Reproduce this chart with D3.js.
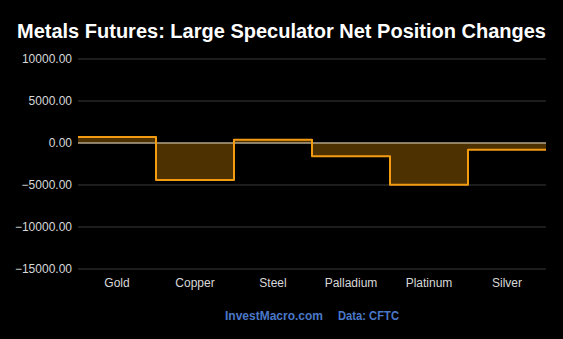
<!DOCTYPE html>
<html><head><meta charset="utf-8">
<script src="https://cdn.jsdelivr.net/npm/d3@7/dist/d3.min.js"></script>
<style>html,body{margin:0;padding:0;background:#000;}svg{display:block;font-family:"Liberation Sans",Arial,sans-serif;}</style>
</head><body>
<svg id="c" width="563" height="339"></svg>
<script>
const categories = ["Gold","Copper","Steel","Palladium","Platinum","Silver"];
const values = [700, -4400, 400, -1590, -4980, -800];
const yTicks = [10000, 5000, 0, -5000, -10000, -15000];
const titleText = "Metals Futures: Large Speculator Net Position Changes";

const W = 563, H = 339;
const m = {left: 78, right: 17, top: 59, bottom: 70};
const svg = d3.select("#c");
svg.append("rect").attr("width", W).attr("height", H).attr("fill", "#000");

const x = d3.scaleBand().domain(categories).range([m.left, W - m.right]).padding(0);
const y = d3.scaleLinear().domain([-15000, 10000]).range([H - m.bottom, m.top]);

// grid
svg.append("g").selectAll("line").data(yTicks).join("line")
  .attr("x1", m.left).attr("x2", W - m.right)
  .attr("y1", d => y(d)).attr("y2", d => y(d))
  .attr("stroke", "#3a3a3a").attr("stroke-width", 1);

// y labels
svg.append("g").selectAll("text").data(yTicks).join("text")
  .attr("x", m.left - 6).attr("y", d => y(d)).attr("dy", "0.35em")
  .attr("text-anchor", "end").attr("fill", "#d8d8d8").attr("font-size", 12)
  .text(d => d3.format(".2f")(d));

// step data
const pts = categories.map((c, i) => ({x: x(c), v: values[i]}));
pts.push({x: x(categories[categories.length - 1]) + x.bandwidth(), v: values[values.length - 1]});

const area = d3.area().x(d => d.x).y0(y(0)).y1(d => y(d.v)).curve(d3.curveStepAfter);
svg.append("path").datum(pts).attr("d", area).attr("fill", "#4d3100");

// zero line
svg.append("line").attr("x1", m.left).attr("x2", W - m.right)
  .attr("y1", y(0)).attr("y2", y(0)).attr("stroke", "#e8dcc0").attr("stroke-width", 1.2);

const line = d3.line().x(d => d.x).y(d => y(d.v)).curve(d3.curveStepAfter);
svg.append("path").datum(pts).attr("d", line).attr("fill", "none")
  .attr("stroke", "#f39c12").attr("stroke-width", 2).attr("stroke-linejoin", "round");

// x labels
svg.append("g").selectAll("text").data(categories).join("text")
  .attr("x", d => x(d) + x.bandwidth() / 2).attr("y", 287)
  .attr("text-anchor", "middle").attr("fill", "#d8d8d8").attr("font-size", 12)
  .text(d => d);

// title
svg.append("text").attr("x", W / 2).attr("y", 38).attr("text-anchor", "middle")
  .attr("fill", "#fff").attr("font-size", 20).attr("font-weight", "bold")
  .text(titleText);

// footer
svg.append("text").attr("x", 225).attr("y", 320).attr("text-anchor", "start")
  .attr("fill", "#4a78c8").attr("font-size", 12).attr("font-weight", "bold")
  .attr("textLength", 98).attr("lengthAdjust", "spacingAndGlyphs").text("InvestMacro.com");
svg.append("text").attr("x", 338).attr("y", 320).attr("text-anchor", "start")
  .attr("fill", "#4a78c8").attr("font-size", 12).attr("font-weight", "bold")
  .attr("textLength", 61).attr("lengthAdjust", "spacingAndGlyphs").text("Data: CFTC");
</script>
</body></html>
